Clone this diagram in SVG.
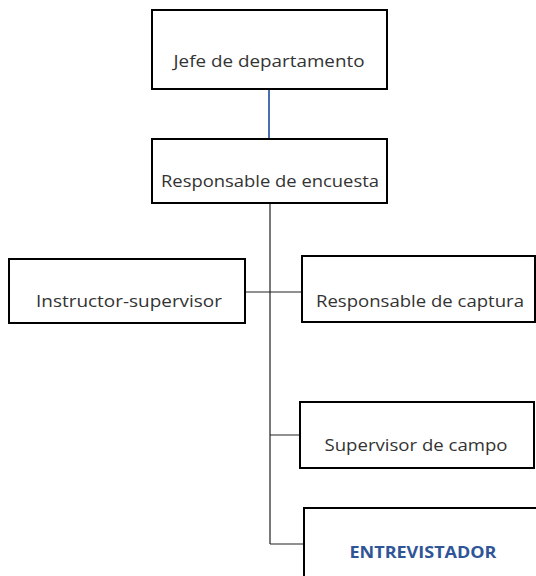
<svg xmlns="http://www.w3.org/2000/svg" width="536" height="576" viewBox="0 0 536 576">
<style>
.box{fill:#fff;stroke:#000;stroke-width:2}
.t{font-family:"Open Sans","Liberation Sans",Arial,sans-serif;font-size:16.5px;fill:#333;text-anchor:middle}
.b{font-weight:bold;fill:#2f5597}
.c{stroke:#222;stroke-width:1.2;fill:none}
</style>
<rect width="536" height="576" fill="#fff"/>
<g id="connectors">
<line x1="269" y1="89" x2="269" y2="139" stroke="#4a6fb0" stroke-width="2"/>
<path class="c" d="M270 203V544M245 292H302M270 435H300M270 544H304"/>
</g>
<g id="jefe"><rect class="box" x="152" y="10" width="235" height="79"/><text class="t" x="269" y="67" textLength="191" lengthAdjust="spacingAndGlyphs">Jefe de departamento</text></g>
<g id="responsable-encuesta"><rect class="box" x="152" y="139" width="235" height="64"/><text class="t" x="270" y="187" textLength="218" lengthAdjust="spacingAndGlyphs">Responsable de encuesta</text></g>
<g id="instructor"><rect class="box" x="9" y="259" width="236" height="64"/><text class="t" x="129" y="307" textLength="186" lengthAdjust="spacingAndGlyphs">Instructor-supervisor</text></g>
<g id="captura"><rect class="box" x="302" y="256" width="233" height="66"/><text class="t" x="420" y="307" textLength="208" lengthAdjust="spacingAndGlyphs">Responsable de captura</text></g>
<g id="supervisor-campo"><rect class="box" x="300" y="402" width="234" height="66"/><text class="t" x="416" y="451" textLength="183" lengthAdjust="spacingAndGlyphs">Supervisor de campo</text></g>
<g id="entrevistador"><rect class="box" x="304" y="508" width="240" height="80"/><text class="t b" x="423" y="558" textLength="147" lengthAdjust="spacingAndGlyphs">ENTREVISTADOR</text></g>
</svg>
